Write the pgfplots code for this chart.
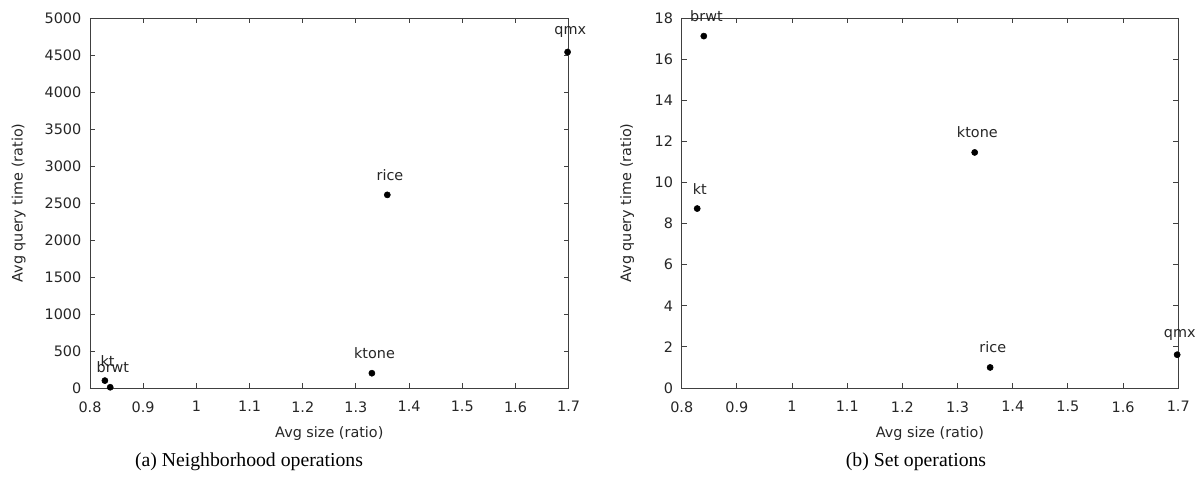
\documentclass[border=0pt]{standalone}
\usepackage{pgfplots}
\pgfplotsset{compat=1.18}
\usepackage{pgfplotstable}
\usepackage{fontspec}
\setmainfont{Liberation Serif}
\newfontfamily\djv{DejaVu Sans}

\pgfplotstableread{
x y label
0.828 100 kt
0.838 10 brwt
1.330 200 ktone
1.359 2610 rice
1.698 4540 qmx
}\neigh

\pgfplotstableread{
x y label
0.828 8.73 kt
0.840 17.12 brwt
1.331 11.46 ktone
1.359 1.00 rice
1.698 1.62 qmx
}\setops

\pgfplotsset{
  common/.style={
    scale only axis,
    anchor=south west,
    height=277.5pt,
    xmin=0.8, xmax=1.7,
    xtick={0.8,0.9,1,1.1,1.2,1.3,1.4,1.5,1.6,1.7},
    xticklabels={0.8,0.9,1,1.1,1.2,1.3,1.4,1.5,1.6,1.7},
    tick align=inside,
    major tick length=3.75pt,
    axis line style={black!75, line width=0.7pt},
    every tick/.style={black!75, line width=0.7pt},
    clip=false,
    scaled ticks=false,
    /pgf/number format/1000 sep={},
    /pgf/number format/assume math mode=true,
    tick label style={font=\djv\fontsize{10.8}{12}\selectfont, black!85},
    xticklabel style={anchor=north, yshift=-6.5pt},
    yticklabel style={anchor=east, xshift=-3pt},
    xlabel={Avg size (ratio)},
    ylabel={Avg query time (ratio)},
    every axis x label/.style={at={(axis description cs:0.5,0)}, anchor=center, yshift=-34.5pt, font=\djv\fontsize{10.8}{12}\selectfont, black!85},
    nodes near coords,
    point meta=explicit symbolic,
    every node near coord/.append style={anchor=center, xshift=2pt, yshift=15pt, font=\djv\fontsize{10.8}{12}\selectfont, black!85},
  }
}

\begin{document}
\begin{tikzpicture}
\useasboundingbox (0,0) rectangle (903pt,364.5pt);
\begin{axis}[common,
  at={(67.5pt,73.5pt)},
  width=359pt,
  ymin=0, ymax=5000,
  ytick={0,500,1000,1500,2000,2500,3000,3500,4000,4500,5000},
  every axis y label/.style={at={(axis description cs:0,0.5)}, rotate=90, anchor=center, yshift=53.6pt, font=\djv\fontsize{10.8}{12}\selectfont, black!85},
]
\addplot[only marks, mark=*, mark size=2.3pt, black] table[x=x, y=y, meta=label]{\neigh};
\end{axis}
\begin{axis}[common,
  at={(511.3pt,73.5pt)},
  width=372.4pt,
  ymin=0, ymax=18,
  ytick={0,2,4,6,8,10,12,14,16,18},
  every axis y label/.style={at={(axis description cs:0,0.5)}, rotate=90, anchor=center, yshift=41pt, font=\djv\fontsize{10.8}{12}\selectfont, black!85},
]
\addplot[only marks, mark=*, mark size=2.3pt, black] table[x=x, y=y, meta=label]{\setops};
\end{axis}
\node[font=\fontsize{14.8}{17}\selectfont] at (186.75pt,18pt) {(a) Neighborhood operations};
\node[font=\fontsize{14.8}{17}\selectfont] at (687pt,18pt) {(b) Set operations};
\end{tikzpicture}
\end{document}
